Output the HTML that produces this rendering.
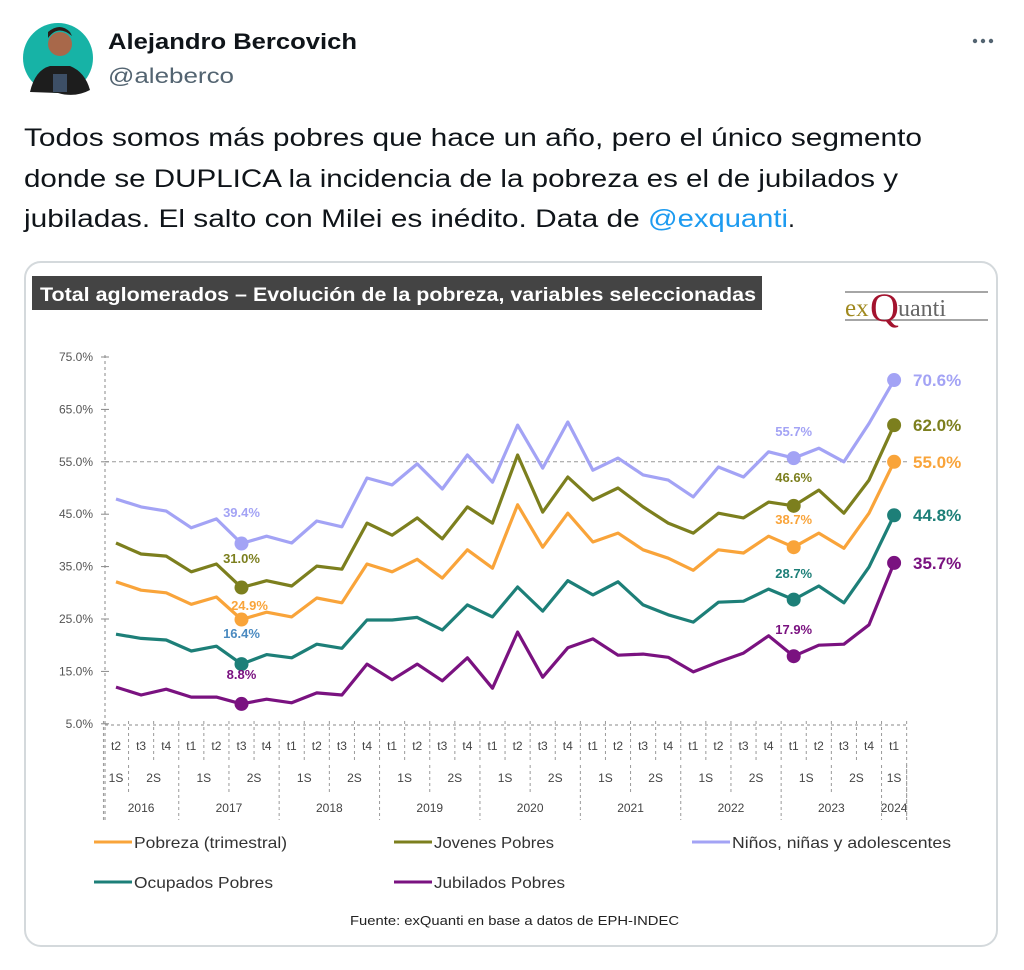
<!DOCTYPE html>
<html><head><meta charset="utf-8">
<style>
html,body{margin:0;padding:0;background:#fff;}
svg{display:block;}
</style></head>
<body>
<svg id="s" width="1024" height="970" viewBox="0 0 1024 970" xmlns="http://www.w3.org/2000/svg" font-family="Liberation Sans, Arial, sans-serif">
<!-- avatar -->
<circle cx="58" cy="58" r="35" fill="#17b3a6"/>
<path d="M30,92 Q35,70 50,66 L70,66 Q85,72 90,90 Q75,98 58,93 Z" fill="#1d1d1d"/>
<circle cx="60" cy="44" r="12" fill="#a8684a"/>
<path d="M48,38 Q58,24 72,36 L70,32 Q60,22 48,32 Z" fill="#2a1d18"/>
<rect x="53" y="74" width="14" height="18" fill="#3d4f66"/>
<text x="108" y="49" font-size="22" font-weight="bold" fill="#0f1419" textLength="249" lengthAdjust="spacingAndGlyphs">Alejandro Bercovich</text>
<text x="108" y="83" font-size="21" fill="#536471" textLength="126" lengthAdjust="spacingAndGlyphs">@aleberco</text>
<circle cx="975" cy="41" r="2.2" fill="#536471"/><circle cx="983" cy="41" r="2.2" fill="#536471"/><circle cx="991" cy="41" r="2.2" fill="#536471"/>
<text x="24" y="146" font-size="25" fill="#0f1419" textLength="898" lengthAdjust="spacingAndGlyphs">Todos somos más pobres que hace un año, pero el único segmento</text>
<text x="24" y="187" font-size="25" fill="#0f1419" textLength="874" lengthAdjust="spacingAndGlyphs">donde se DUPLICA la incidencia de la pobreza es el de jubilados y</text>
<text x="24" y="227" font-size="25" fill="#0f1419"><tspan textLength="624" lengthAdjust="spacingAndGlyphs">jubiladas. El salto con Milei es inédito. Data de </tspan><tspan fill="#1d9bf0" textLength="140" lengthAdjust="spacingAndGlyphs">@exquanti</tspan>.</text>
<!-- card -->
<rect x="25" y="262" width="972" height="684" rx="16" fill="#fff" stroke="#d4d9dc" stroke-width="2"/>
<rect x="32" y="276" width="730" height="34" fill="#444"/>
<text x="40" y="301" font-size="19" font-weight="bold" fill="#fff" textLength="716" lengthAdjust="spacingAndGlyphs">Total aglomerados – Evolución de la pobreza, variables seleccionadas</text>
<!-- logo -->
<line x1="845" y1="292" x2="988" y2="292" stroke="#888" stroke-width="1.5"/>
<line x1="845" y1="320" x2="988" y2="320" stroke="#888" stroke-width="1.5"/>
<text x="845" y="316" font-family="Liberation Serif, serif" font-size="25" fill="#a0891e">ex</text>
<text x="870" y="321" font-family="Liberation Serif, serif" font-size="40" fill="#a3132e">Q</text>
<text x="898" y="316" font-family="Liberation Serif, serif" font-size="24" fill="#666">uanti</text>
<g id="chart"></g>
<!-- legend -->
<g font-size="16" fill="#333">
<line x1="94" y1="842" x2="132" y2="842" stroke="#f9a43a" stroke-width="3"/><text x="134" y="848" textLength="153" lengthAdjust="spacingAndGlyphs">Pobreza (trimestral)</text>
<line x1="394" y1="842" x2="432" y2="842" stroke="#7c7f1e" stroke-width="3"/><text x="434" y="848" textLength="120" lengthAdjust="spacingAndGlyphs">Jovenes Pobres</text>
<line x1="692" y1="842" x2="730" y2="842" stroke="#a3a3f5" stroke-width="3"/><text x="732" y="848" textLength="219" lengthAdjust="spacingAndGlyphs">Niños, niñas y adolescentes</text>
<line x1="94" y1="882" x2="132" y2="882" stroke="#1d7f78" stroke-width="3"/><text x="134" y="888" textLength="139" lengthAdjust="spacingAndGlyphs">Ocupados Pobres</text>
<line x1="394" y1="882" x2="432" y2="882" stroke="#7a1280" stroke-width="3"/><text x="434" y="888" textLength="131" lengthAdjust="spacingAndGlyphs">Jubilados Pobres</text>
<text x="350" y="925" font-size="13" fill="#222" textLength="329" lengthAdjust="spacingAndGlyphs">Fuente: exQuanti en base a datos de EPH-INDEC</text>
</g>
</svg>
<script>
(function(){
var NS="http://www.w3.org/2000/svg",g=document.getElementById("chart");
function el(t,a,txt){var e=document.createElementNS(NS,t);for(var k in a)e.setAttribute(k,a[k]);if(txt!=null)e.textContent=txt;g.appendChild(e);return e;}
function X(i){return 116+25.1*i;}
function Y(v){return 357+(75-v)*5.24;}
el("line",{x1:105,y1:355,x2:105,y2:820,stroke:"#888","stroke-dasharray":"3,3","stroke-width":1});
el("line",{x1:105,y1:725,x2:908,y2:725,stroke:"#888","stroke-dasharray":"3,3","stroke-width":1});
el("line",{x1:105,y1:Y(55),x2:908,y2:Y(55),stroke:"#999","stroke-dasharray":"4,3","stroke-width":1});
for(var v=5;v<=75;v+=10){el("text",{x:93,y:Y(v)+4,"font-size":12,"text-anchor":"end",fill:"#555"},v.toFixed(1)+"%");el("line",{x1:101,y1:Y(v),x2:109,y2:Y(v),stroke:"#888"});}
var q=["t2","t3","t4"];for(var y=0;y<7;y++)q=q.concat(["t1","t2","t3","t4"]);q.push("t1");
for(var i=0;i<32;i++){el("text",{x:X(i),y:750,"font-size":12,"text-anchor":"middle",fill:"#444"},q[i]);}
for(var i=0;i<=32;i++){var bx=X(i-0.5);el("line",{x1:bx,y1:721,x2:bx,y2:(i==0||i==32)?820:760,stroke:"#999","stroke-dasharray":"3,3"});}
var sem=[[0,0,"1S"],[1,2,"2S"]];for(var y=0;y<7;y++){var b=3+4*y;sem.push([b,b+1,"1S"]);sem.push([b+2,b+3,"2S"]);}sem.push([31,31,"1S"]);
sem.forEach(function(s){el("text",{x:(X(s[0])+X(s[1]))/2,y:782,"font-size":12,"text-anchor":"middle",fill:"#444"},s[2]);el("line",{x1:X(s[1]+0.5),y1:765,x2:X(s[1]+0.5),y2:792,stroke:"#999","stroke-dasharray":"3,3"});});
var yrs=[[0,2,"2016"]];for(var y=0;y<7;y++){var b=3+4*y;yrs.push([b,b+3,String(2017+y)]);}yrs.push([31,31,"2024"]);
yrs.forEach(function(s){el("text",{x:(X(s[0])+X(s[1]))/2,y:812,"font-size":12,"text-anchor":"middle",fill:"#444"},s[2]);el("line",{x1:X(s[1]+0.5),y1:795,x2:X(s[1]+0.5),y2:820,stroke:"#999","stroke-dasharray":"3,3"});});
var S=[
["#a3a3f5",[47.9,46.4,45.6,42.4,44.1,39.4,40.8,39.5,43.7,42.6,51.9,50.6,54.6,49.8,56.3,51.1,62.0,53.8,62.6,53.4,55.7,52.5,51.5,48.3,54.0,52.1,56.9,55.7,57.6,55.0,62.3,70.6]],
["#7c7f1e",[39.5,37.4,37.0,34.0,35.5,31.0,32.3,31.3,35.1,34.5,43.3,41.0,44.3,40.3,46.4,43.3,56.3,45.4,52.1,47.7,50.0,46.4,43.3,41.4,45.2,44.3,47.3,46.6,49.6,45.2,51.5,62.0]],
["#f9a43a",[32.1,30.5,30.0,27.8,29.2,24.9,26.3,25.4,29.0,28.1,35.5,34.0,36.4,32.8,38.2,34.7,46.8,38.7,45.2,39.7,41.4,38.2,36.6,34.3,38.2,37.6,40.8,38.7,41.4,38.5,45.2,55.0]],
["#1d7f78",[22.1,21.3,21.0,18.9,19.8,16.4,18.2,17.6,20.2,19.4,24.8,24.8,25.3,22.9,27.7,25.4,31.1,26.5,32.3,29.6,32.1,27.7,25.8,24.4,28.2,28.4,30.7,28.7,31.3,28.1,34.9,44.8]],
["#7a1280",[12.0,10.5,11.6,10.1,10.1,8.8,9.7,9.0,10.9,10.5,16.4,13.4,16.4,13.2,17.6,11.8,22.5,13.9,19.5,21.2,18.1,18.3,17.7,14.9,16.8,18.5,21.8,17.9,20.0,20.2,23.9,35.7]]];
S.forEach(function(s){var p=s[1].map(function(v,i){return X(i).toFixed(1)+","+Y(v).toFixed(1);}).join(" ");
el("polyline",{points:p,fill:"none",stroke:s[0],"stroke-width":3.2,"stroke-linejoin":"round"});
[5,27,31].forEach(function(i){el("circle",{cx:X(i),cy:Y(s[1][i]),r:7,fill:s[0]});});});
var L=[["#a3a3f5","39.4%",X(5),517],["#7c7f1e","31.0%",X(5),563],["#f9a43a","24.9%",X(5)+8,610],["#4a8ac0","16.4%",X(5),638],["#7a1280","8.8%",X(5),679],
["#a3a3f5","55.7%",X(27),436],["#7c7f1e","46.6%",X(27),482],["#f9a43a","38.7%",X(27),524],["#1d7f78","28.7%",X(27),578],["#7a1280","17.9%",X(27),634]];
L.forEach(function(l){el("text",{x:l[2],y:l[3],"font-size":13,"font-weight":"bold","text-anchor":"middle",fill:l[0]},l[1]);});
var R=[["#a3a3f5","70.6%",70.6],["#7c7f1e","62.0%",62.0],["#f9a43a","55.0%",55.0],["#1d7f78","44.8%",44.8],["#7a1280","35.7%",35.7]];
R.forEach(function(r){el("text",{x:913,y:Y(r[2])+6,"font-size":17,"font-weight":"bold",fill:r[0]},r[1]);});
})();
</script>
</body></html>
